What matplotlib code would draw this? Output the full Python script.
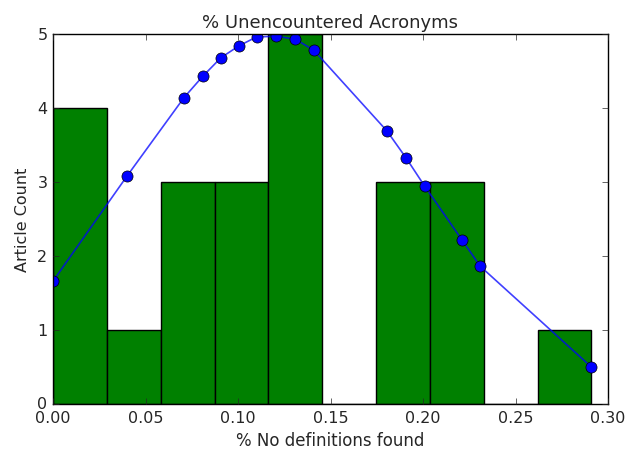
import matplotlib
matplotlib.use("Agg")
import matplotlib.pyplot as plt
import numpy as np

plt.style.use("classic")
plt.rcParams["text.color"] = "#262626"
plt.rcParams["axes.labelcolor"] = "#262626"
plt.rcParams["xtick.color"] = "#262626"
plt.rcParams["ytick.color"] = "#262626"

counts = [4, 1, 3, 3, 5, 0, 3, 3, 0, 1]
bin_min, bin_max = 0.0, 0.291
fit_x = [0.0, 0.040, 0.0708, 0.081, 0.0908, 0.1005, 0.110, 0.1205, 0.131, 0.141,
         0.1805, 0.191, 0.201, 0.221, 0.231, 0.291]
fit_y = [1.66, 3.08, 4.14, 4.43, 4.68, 4.84, 4.96, 4.97, 4.93, 4.78,
         3.69, 3.32, 2.94, 2.22, 1.86, 0.50]

edges = np.linspace(bin_min, bin_max, len(counts) + 1)

fig = plt.figure(figsize=(6.29, 4.52), dpi=100, facecolor="white")
ax = fig.add_axes([53/629, 47/452, 555/629, 370/452])
ax.hist(edges[:-1], bins=edges, weights=counts, color="green", edgecolor="black")
ax.plot(fit_x, fit_y, "-", color="blue", alpha=0.75, linewidth=1.2)
ax.plot(fit_x, fit_y, "o", color="blue", markersize=8)
ax.set_xlim(0, 0.30)
ax.set_ylim(0, 5)
ax.set_title("% Unencountered Acronyms", fontsize=13)
ax.set_xlabel("% No definitions found", fontsize=12)
ax.set_ylabel("Article Count", fontsize=11.5)
ax.tick_params(labelsize=11.5)
fig.savefig("out.png", dpi=100, facecolor="white")
